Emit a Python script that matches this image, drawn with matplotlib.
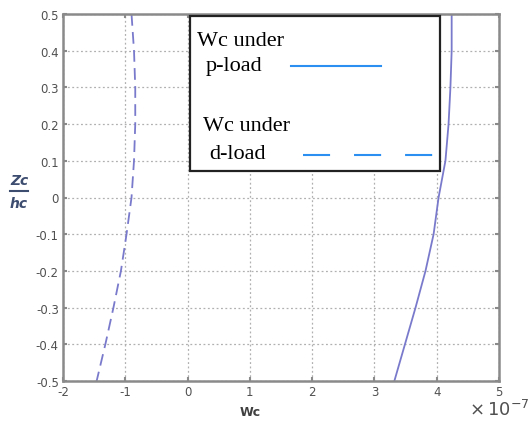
import numpy as np
import matplotlib
matplotlib.use("Agg")
import matplotlib.pyplot as plt
from matplotlib.patches import Rectangle
from matplotlib.lines import Line2D

# data (Wc in units of 1e-7)
zc_hc = [0.5, 0.4, 0.3, 0.2, 0.1, 0.0, -0.1, -0.2, -0.3, -0.4, -0.5]
wc_p_load = [4.24, 4.24, 4.22, 4.19, 4.14, 4.03, 3.95, 3.82, 3.66, 3.49, 3.32]
wc_d_load = [-0.90, -0.86, -0.84, -0.84, -0.86, -0.90, -0.98, -1.07, -1.19, -1.32, -1.46]
x_ticks = [-2, -1, 0, 1, 2, 3, 4, 5]
y_ticks = [-0.5, -0.4, -0.3, -0.2, -0.1, 0, 0.1, 0.2, 0.3, 0.4, 0.5]

curve_col = '#7a7acc'
leg_col = '#2a8ff0'
spine_col = '#8a8a8a'

fig = plt.figure(figsize=(5.28, 4.27), dpi=100)
ax = fig.add_axes([63/528, 1 - 382/427, 436/528, 367/427])

ax.plot(wc_p_load, zc_hc, color=curve_col, lw=1.3)
ax.plot(wc_d_load, zc_hc, color=curve_col, lw=1.3, dashes=(6.5, 3.5))

ax.set_xlim(-2, 5)
ax.set_ylim(-0.5, 0.5)
ax.set_xticks(x_ticks)
ax.set_yticks(y_ticks)
ax.set_xticklabels([str(t) for t in x_ticks])
ax.set_yticklabels(['%g' % t for t in y_ticks])
ax.grid(True, linestyle=(0, (1.5, 2)), color='#b0b0b0', lw=0.9)
ax.tick_params(direction='in', length=3, colors=spine_col, labelcolor='#505050',
               labelsize=8.5, top=True, right=True, width=1.5, pad=3)
for s in ax.spines.values():
    s.set_color(spine_col)
    s.set_linewidth(1.8)

# hand-made legend box
ax.add_patch(Rectangle((0.291, 0.572), 0.574, 0.423, transform=ax.transAxes,
                       facecolor='white', edgecolor='#222222', lw=1.6, zorder=5))
serif = 'Liberation Serif'
def yfrac(py):
    return (382 - py) / 367
def xfrac(px):
    return (px - 63) / 436
ax.text(xfrac(197), yfrac(42), 'Wc under', family=serif, fontsize=16,
        va='center', transform=ax.transAxes, zorder=6)
ax.text(xfrac(206), yfrac(67), 'p-load', family=serif, fontsize=16,
        va='center', transform=ax.transAxes, zorder=6)
ax.text(xfrac(203), yfrac(127), 'Wc under', family=serif, fontsize=16,
        va='center', transform=ax.transAxes, zorder=6)
ax.text(xfrac(209), yfrac(155), 'd-load', family=serif, fontsize=16,
        va='center', transform=ax.transAxes, zorder=6)
ax.add_line(Line2D([xfrac(291), xfrac(381)], [yfrac(67), yfrac(67)],
                   transform=ax.transAxes, color=leg_col, lw=1.5, zorder=6))
ax.add_line(Line2D([xfrac(303), xfrac(434)], [yfrac(156), yfrac(156)],
                   transform=ax.transAxes, color=leg_col, lw=1.5, zorder=6,
                   dashes=(13, 11.5)))

# axis labels
lab_col = '#3d4d70'
fig.text(19/528, 1 - 181/427, 'Zc', fontsize=10, fontweight='bold', style='italic',
         color=lab_col, ha='center', va='center')
fig.text(19/528, 1 - 204/427, 'hc', fontsize=10, fontweight='bold', style='italic',
         color=lab_col, ha='center', va='center')
fig.add_artist(Line2D([10/528, 28/528], [1 - 192/427, 1 - 192/427],
                      color=lab_col, lw=1.5))
fig.text(250/528, 1 - 413/427, 'Wc', fontsize=9, fontweight='bold',
         color='#404040', ha='center', va='center')
fig.text(499/528, 1 - 410/427, r'$\times\,10^{-7}$', fontsize=13,
         color='#505050', ha='center', va='center')

fig.savefig('out.png', dpi=100)
